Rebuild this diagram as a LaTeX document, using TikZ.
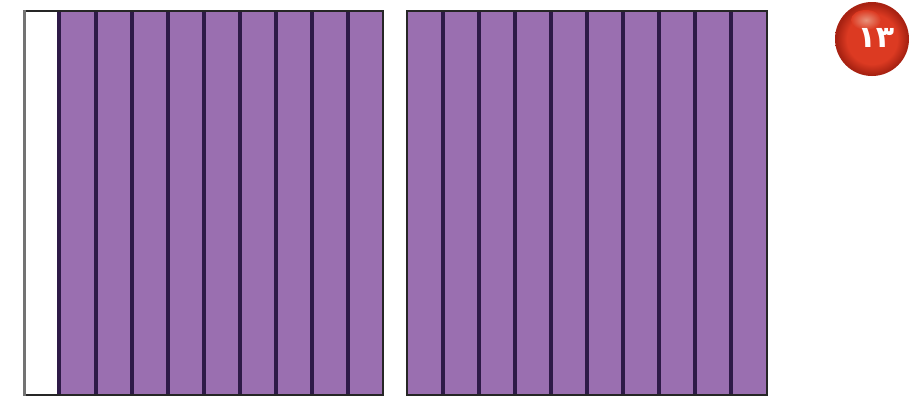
\documentclass[tikz,border=0pt]{standalone}
\usepackage{fontspec}
\newfontfamily\arabicfont[Script=Arabic]{DejaVu Sans}
\definecolor{barpurple}{HTML}{9A6FB0}
\definecolor{barline}{HTML}{2E1A47}
\definecolor{ballred}{HTML}{DC3A22}
\definecolor{balldark}{HTML}{A82212}
\definecolor{balllight}{HTML}{E8917A}
\pgfdeclareradialshading{ballshade}{\pgfpoint{0bp}{0bp}}{%
  color(0bp)=(ballred); color(17bp)=(ballred); color(24bp)=(balldark); color(50bp)=(balldark)}
\tikzset{
  cellbar/.style={fill=barpurple,draw=none},
  divider/.style={draw=barline,line width=3.4pt},
  frameline/.style={draw=black!85,line width=2.4pt},
  edgeline/.style={draw=black!55,line width=3pt},
}
\begin{document}
\begin{tikzpicture}[x=1pt,y=-1pt]
\useasboundingbox (0,0) rectangle (913,402);
\fill[white] (0,0) rectangle (913,402);
% left square
\fill[cellbar] (59,11) rectangle (383,395);
\foreach \x in {59,96,132,168,204,240,276,312,348}
  \draw[divider] (\x,11) -- (\x,395);
\draw[frameline] (24,11) -- (383,11) -- (383,395) -- (24,395);
\draw[edgeline] (24,10) -- (24,396);
% right square
\fill[cellbar] (407,11) rectangle (767,395);
\foreach \x in {443,479,515,551,587,623,659,695,731}
  \draw[divider] (\x,11) -- (\x,395);
\draw[frameline] (407,11) rectangle (767,395);
% badge
\shade[shading=ballshade] (872,39) circle[radius=37];
\shade[inner color=balllight,outer color=ballred] (866,20) ellipse[x radius=15,y radius=10];
\node[text=white,font=\arabicfont\bfseries,scale=3.0,inner sep=0pt] (badgenum) at (876,38) {۱۳};
\end{tikzpicture}
\end{document}
